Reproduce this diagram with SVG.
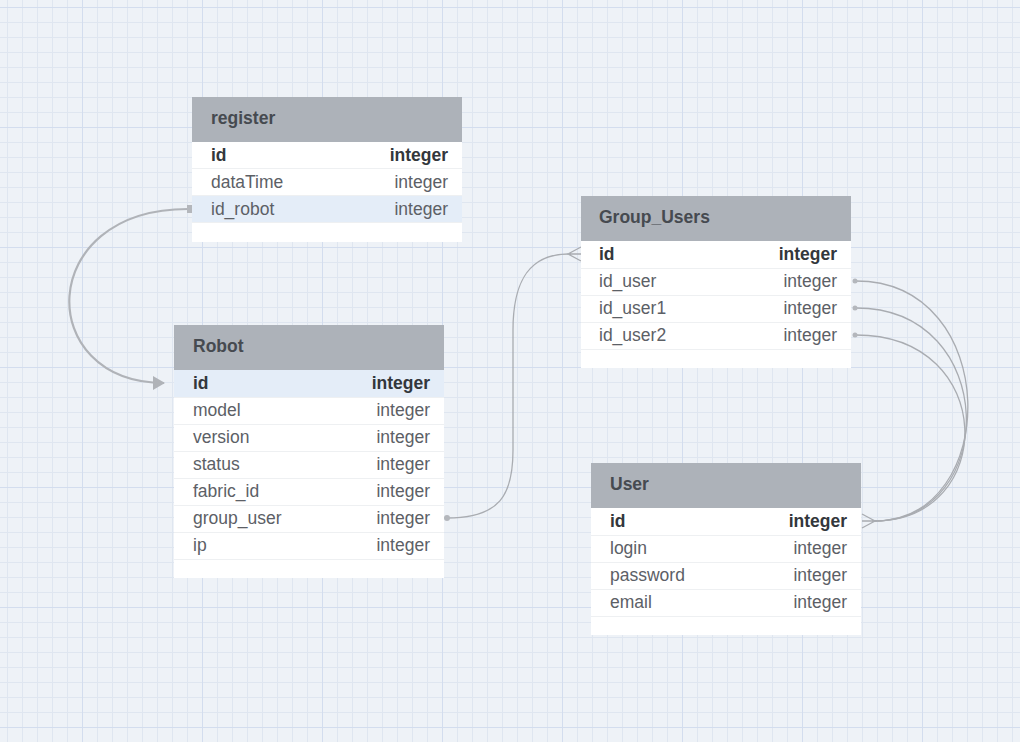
<svg xmlns="http://www.w3.org/2000/svg" width="1020" height="742" viewBox="0 0 1020 742">
<defs>
<pattern id="minor" x="7" y="7" width="15" height="15" patternUnits="userSpaceOnUse">
<path d="M0 0.5H15M0.5 0V15" fill="none" stroke="#dfe6f0" stroke-width="1"/>
</pattern>
<pattern id="major" x="82" y="7" width="120" height="120" patternUnits="userSpaceOnUse">
<path d="M0 0.5H120M0.5 0V120" fill="none" stroke="#d3ddee" stroke-width="1"/>
</pattern>
<marker id="arrow" viewBox="0 0 12 14" refX="11" refY="7" markerWidth="12" markerHeight="14" markerUnits="userSpaceOnUse" orient="auto">
<path d="M0 0L12 7L0 14Z" fill="#b0b3b8"/>
</marker>
</defs>
<style>
.hdr{fill:#adb2b9}
.row{fill:#ffffff}
.hl{fill:#e4edf8}
.sep{stroke:#eef0f2;stroke-width:1}
.title{font-family:"Liberation Sans",Arial,sans-serif;font-size:17.5px;font-weight:bold;fill:#464a50}
.name{font-family:"Liberation Sans",Arial,sans-serif;font-size:17.5px;fill:#5c6066}
.type{font-family:"Liberation Sans",Arial,sans-serif;font-size:17.5px;fill:#5c6066;text-anchor:end}
.pk{font-weight:bold;fill:#33373c}
.conn{fill:none;stroke:#a9acb1;stroke-width:1.3}
.thick{fill:none;stroke:#b0b3b8;stroke-width:2.2}
.stub{fill:#b4b7bc}
.crow{fill:none;stroke:#a9acb1;stroke-width:1.3}
</style>
<rect width="1020" height="742" fill="#eef2f7"/>
<rect width="1020" height="742" fill="url(#minor)"/>
<rect width="1020" height="742" fill="url(#major)"/>

<g id="connectors">
<path class="thick" d="M188 209 C34 209 34 383 164 383" marker-end="url(#arrow)"/>
<path class="stub" d="M187 205 L192 205 L192 213 L187 213 Z"/>
<path class="conn" d="M447 518 C500 518 513 495 513 450 L513 330 C513 280 530 254 568 254"/>
<circle class="stub" cx="447" cy="518" r="3"/>
<path class="crow" d="M581 247 L568 254 L581 261 M568 254 L581 254"/>
<path class="conn" d="M856 281 C1002 281 1002 521 874 521"/>
<path class="conn" d="M856 308 C1000 308 1000 521 874 521"/>
<path class="conn" d="M856 335 C998 335 998 521 874 521"/>
<circle class="stub" cx="855" cy="281" r="2.5"/>
<circle class="stub" cx="855" cy="308" r="2.5"/>
<circle class="stub" cx="855" cy="335" r="2.5"/>
<path class="crow" d="M862 514 L875 521 L862 528 M862 521 L875 521"/>
</g>

<g id="register">
<rect class="hdr" x="192" y="97" width="270" height="45"/>
<rect class="row" x="192" y="142" width="270" height="100"/>
<rect class="hl" x="192" y="196" width="270" height="26"/>
<line class="sep" x1="192" y1="168.5" x2="462" y2="168.5"/>
<line class="sep" x1="192" y1="195.5" x2="462" y2="195.5"/>
<line class="sep" x1="192" y1="222.5" x2="462" y2="222.5"/>
<text class="title" x="211" y="124">register</text>
<text class="name pk" x="211" y="161">id</text><text class="type pk" x="448" y="161">integer</text>
<text class="name" x="211" y="188">dataTime</text><text class="type" x="448" y="188">integer</text>
<text class="name" x="211" y="215">id_robot</text><text class="type" x="448" y="215">integer</text>
</g>

<g id="robot">
<rect class="hdr" x="174" y="325" width="270" height="45"/>
<rect class="row" x="174" y="370" width="270" height="208"/>
<rect class="hl" x="174" y="370" width="270" height="27"/>
<line class="sep" x1="174" y1="397.5" x2="444" y2="397.5"/>
<line class="sep" x1="174" y1="424.5" x2="444" y2="424.5"/>
<line class="sep" x1="174" y1="451.5" x2="444" y2="451.5"/>
<line class="sep" x1="174" y1="478.5" x2="444" y2="478.5"/>
<line class="sep" x1="174" y1="505.5" x2="444" y2="505.5"/>
<line class="sep" x1="174" y1="532.5" x2="444" y2="532.5"/>
<line class="sep" x1="174" y1="559.5" x2="444" y2="559.5"/>
<text class="title" x="193" y="352">Robot</text>
<text class="name pk" x="193" y="389">id</text><text class="type pk" x="430" y="389">integer</text>
<text class="name" x="193" y="416">model</text><text class="type" x="430" y="416">integer</text>
<text class="name" x="193" y="443">version</text><text class="type" x="430" y="443">integer</text>
<text class="name" x="193" y="470">status</text><text class="type" x="430" y="470">integer</text>
<text class="name" x="193" y="497">fabric_id</text><text class="type" x="430" y="497">integer</text>
<text class="name" x="193" y="524">group_user</text><text class="type" x="430" y="524">integer</text>
<text class="name" x="193" y="551">ip</text><text class="type" x="430" y="551">integer</text>
</g>

<g id="group_users">
<rect class="hdr" x="581" y="196" width="270" height="45"/>
<rect class="row" x="581" y="241" width="270" height="127"/>
<line class="sep" x1="581" y1="268.5" x2="851" y2="268.5"/>
<line class="sep" x1="581" y1="295.5" x2="851" y2="295.5"/>
<line class="sep" x1="581" y1="322.5" x2="851" y2="322.5"/>
<line class="sep" x1="581" y1="349.5" x2="851" y2="349.5"/>
<text class="title" x="599" y="223">Group_Users</text>
<text class="name pk" x="599" y="260">id</text><text class="type pk" x="837" y="260">integer</text>
<text class="name" x="599" y="287">id_user</text><text class="type" x="837" y="287">integer</text>
<text class="name" x="599" y="314">id_user1</text><text class="type" x="837" y="314">integer</text>
<text class="name" x="599" y="341">id_user2</text><text class="type" x="837" y="341">integer</text>
</g>

<g id="user">
<rect class="hdr" x="591" y="463" width="270" height="45"/>
<rect class="row" x="591" y="508" width="270" height="127"/>
<line class="sep" x1="591" y1="535.5" x2="861" y2="535.5"/>
<line class="sep" x1="591" y1="562.5" x2="861" y2="562.5"/>
<line class="sep" x1="591" y1="589.5" x2="861" y2="589.5"/>
<line class="sep" x1="591" y1="616.5" x2="861" y2="616.5"/>
<text class="title" x="610" y="490">User</text>
<text class="name pk" x="610" y="527">id</text><text class="type pk" x="847" y="527">integer</text>
<text class="name" x="610" y="554">login</text><text class="type" x="847" y="554">integer</text>
<text class="name" x="610" y="581">password</text><text class="type" x="847" y="581">integer</text>
<text class="name" x="610" y="608">email</text><text class="type" x="847" y="608">integer</text>
</g>
</svg>
